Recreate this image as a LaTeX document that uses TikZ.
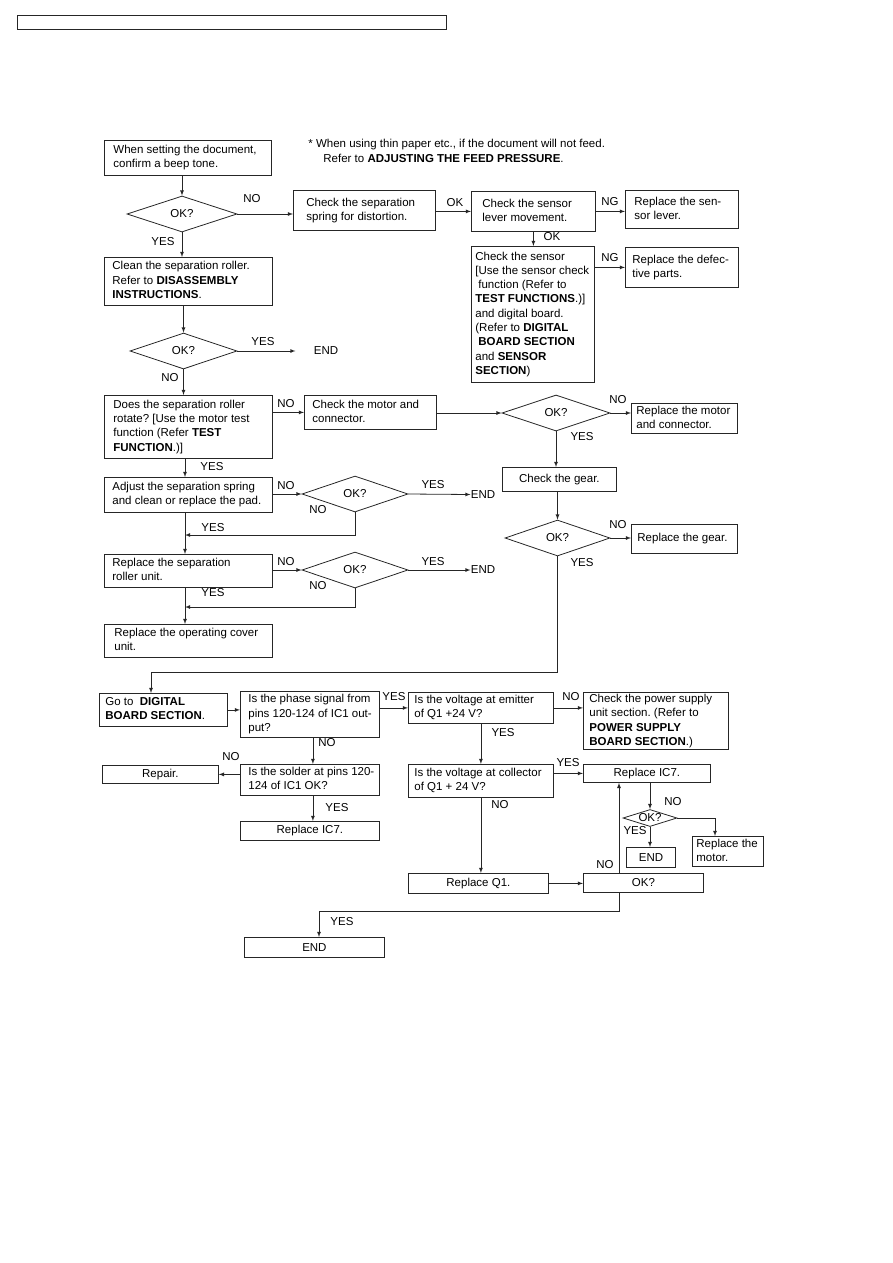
\documentclass[tikz,border=0pt]{standalone}
\usepackage{fontspec}
\setmainfont{Liberation Sans}
\usetikzlibrary{shapes.geometric}
\frenchspacing
\newcommand{\flowfont}{\fontsize{11.5}{14.3}\selectfont}
\newcommand{\boxlines}[1]{\begin{tabular}{@{}l@{}}#1\end{tabular}}
\tikzset{
  box/.style={draw, anchor=north west, align=flush left, inner ysep=0pt, inner xsep=8pt, font=\flowfont},
  cbox/.style={draw, anchor=north west, align=center, inner sep=0pt, font=\flowfont},
  dec/.style={draw, diamond, aspect=3, inner sep=0pt, font=\flowfont},
  lbl/.style={inner sep=0pt, font=\flowfont},
}
\begin{document}
\begin{tikzpicture}[x=1pt, y=-1pt, >=latex, line width=0.8pt, draw=black!85]
\useasboundingbox (0,0) rectangle (893,1263);
\draw[line width=1pt] (17,16) rectangle (446,30);

% note
\node[lbl, anchor=north west, align=left] (note) at (308,139)
  {* When using thin paper etc., if the document will not feed.\\
   \hspace*{15pt}Refer to \textbf{ADJUSTING THE FEED PRESSURE}.};

% upper part
\node[box, text width=149pt, inner xsep=9pt, minimum height=35pt] (beep) at (104,140) {\boxlines{When setting the document,\\confirm a beep tone.}};
\node[dec, minimum width=110pt, minimum height=36pt] (ok1) at (182,214) {OK?};
\node[box, text width=116pt, inner xsep=13pt, minimum height=40pt] (springchk) at (293,190) {\boxlines{Check the separation\\spring for distortion.}};
\node[box, text width=102pt, inner xsep=11pt, minimum height=40pt] (leverchk) at (471,191) {\boxlines{Check the sensor\\lever movement.}};
\node[box, text width=95pt, inner xsep=9pt, minimum height=38pt] (leverrep) at (625,190) {\boxlines{Replace the sen-\\sor lever.}};
\node[box, text width=115pt, inner xsep=4pt, minimum height=136pt] (sensorchk) at (471,246) {\boxlines{Check the sensor\\{}[Use the sensor check\\\hspace*{3pt}function (Refer to\\\textbf{TEST FUNCTIONS}.)]\\and digital board.\\(Refer to \textbf{DIGITAL}\\\hspace*{3pt}\textbf{BOARD SECTION}\\and \textbf{SENSOR}\\\textbf{SECTION})}};
\node[box, text width=99pt, inner xsep=7pt, minimum height=40pt] (partsrep) at (625,247) {\boxlines{Replace the defec-\\tive parts.}};
\node[box, text width=152pt, minimum height=48pt] (roller) at (104,257) {\boxlines{Clean the separation roller.\\Refer to \textbf{DISASSEMBLY}\\\textbf{INSTRUCTIONS}.}};
\node[dec, minimum width=107pt, minimum height=36pt] (ok2) at (183.5,351) {OK?};
\node[lbl] (end1) at (326,351) {END};

% middle part
\node[box, text width=150pt, inner xsep=9pt, minimum height=63pt] (rotate) at (104,395) {\boxlines{Does the separation roller\\rotate? [Use the motor test\\function (Refer \textbf{TEST}\\\textbf{FUNCTION}.)]}};
\node[box, text width=116pt, minimum height=34pt] (motorchk) at (304,395) {\boxlines{Check the motor and\\connector.}};
\node[dec, minimum width=108pt, minimum height=36pt] (ok3) at (556,413) {OK?};
\node[box, text width=96pt, inner xsep=5pt, minimum height=30pt] (motorrep) at (631,403) {\boxlines{Replace the motor\\and connector.}};
\node[cbox, minimum width=114pt, minimum height=24pt] (gearchk) at (502,467) {Check the gear.};
\node[dec, minimum width=105pt, minimum height=36pt] (ok4) at (557.5,538) {OK?};
\node[box, text width=94pt, inner xsep=6pt, minimum height=29pt] (gearrep) at (631,524) {\boxlines{Replace the gear.}};
\node[box, text width=152pt, inner xsep=8pt, minimum height=35pt] (adjust) at (104,477) {\boxlines{Adjust the separation spring\\and clean or replace the pad.}};
\node[dec, minimum width=106pt, minimum height=36pt] (ok5) at (355,494) {OK?};
\node[lbl] (end2) at (483,494.5) {END};
\node[box, text width=152pt, minimum height=33pt] (rollerrep) at (104,554) {\boxlines{Replace the separation\\roller unit.}};
\node[dec, minimum width=106pt, minimum height=36pt] (ok6) at (355,570) {OK?};
\node[lbl] (end3) at (483,570) {END};
\node[box, text width=148pt, inner xsep=10pt, minimum height=33pt] (coverrep) at (104,624) {\boxlines{Replace the operating cover\\unit.}};

% lower part
\node[box, text width=116pt, inner xsep=6pt, minimum height=33pt] (digital) at (99,693) {\boxlines{Go to~~\textbf{DIGITAL}\\\textbf{BOARD SECTION}.}};
\node[box, text width=123pt, inner xsep=8pt, minimum height=46pt] (phase) at (240,691) {\boxlines{Is the phase signal from\\pins 120-124 of IC1 out-\\put?}};
\node[box, text width=133pt, inner xsep=6pt, minimum height=31pt] (emitter) at (408,692) {\boxlines{Is the voltage at emitter\\of Q1 +24 V?}};
\node[box, text width=133pt, inner xsep=6pt, minimum height=57pt] (power) at (583,692) {\boxlines{Check the power supply\\unit section. (Refer to\\\textbf{POWER SUPPLY}\\\textbf{BOARD SECTION}.)}};
\node[box, text width=123pt, inner xsep=8pt, minimum height=31pt] (solder) at (240,764) {\boxlines{Is the solder at pins 120-\\124 of IC1 OK?}};
\node[cbox, minimum width=116pt, minimum height=18pt] (repair) at (102,765) {Repair.};
\node[cbox, minimum width=139pt, minimum height=19pt] (ic7b) at (240,821) {Replace IC7.};
\node[box, text width=133pt, inner xsep=6pt, minimum height=33pt] (collector) at (408,764) {\boxlines{Is the voltage at collector\\of Q1 + 24 V?}};
\node[cbox, minimum width=127pt, minimum height=18pt] (ic7) at (583,764) {Replace IC7.};
\node[dec, minimum width=54pt, minimum height=17pt] (ok7) at (650,818) {OK?};
\node[box, text width=63pt, inner xsep=4pt, minimum height=30pt] (motorrep2) at (692,836) {\boxlines{Replace the\\motor.}};
\node[cbox, minimum width=49pt, minimum height=20pt, line width=1.1pt] (end5) at (626,847) {END};
\node[cbox, minimum width=140pt, minimum height=20pt] (q1rep) at (408,873) {Replace Q1.};
\node[cbox, minimum width=120pt, minimum height=19pt] (recheck) at (583,873) {OK?};
\node[cbox, minimum width=140pt, minimum height=20pt] (end6) at (244,937) {END};

% helper points
\coordinate (col) at (185,0);
\coordinate (join1) at (185,535);
\coordinate (join2) at (185,607);
\coordinate (bend1) at (151,672);
\coordinate (back) at (619,0);
\coordinate (bend2) at (319,911);
\coordinate (motx) at (715,0);

% connectors
\draw[->] (ok1.north |- beep.south) -- (ok1.north);
\draw[->] (ok1.east) -- (ok1.east -| springchk.west);
\draw[->] (springchk.east |- leverchk.west) -- (leverchk.west);
\draw[->] (leverchk.east) -- (leverchk.east -| leverrep.west);
\draw[->] (leverchk.south) -- (leverchk.south |- sensorchk.north);
\draw[->] (sensorchk.east |- partsrep.west) -- (partsrep.west);
\draw[->] (ok1.south) -- (ok1.south |- roller.north);
\draw[->] (ok2.north |- roller.south) -- (ok2.north);
\draw[->] (ok2.east) -- ([xshift=-18pt]end1.west);
\draw[->] (ok2.south) -- (ok2.south |- rotate.north);
\draw[->] (rotate.east |- motorchk.west) -- (motorchk.west);
\draw[->] (motorchk.east |- ok3.west) -- (ok3.west);
\draw[->] (ok3.east) -- (ok3.east -| motorrep.west);
\draw[->] (ok3.south) -- (ok3.south |- gearchk.north);
\draw[->] (ok4.north |- gearchk.south) -- (ok4.north);
\draw[->] (ok4.east) -- (ok4.east -| gearrep.west);
\draw[->] (ok4.south) |- (bend1) -- (bend1 |- digital.north);
\draw[->] (rotate.south -| col) -- (adjust.north -| col);
\draw[->] (adjust.east |- ok5.west) -- (ok5.west);
\draw[->] (ok5.east) -- (end2.west);
\draw[->] (ok5.south) |- (join1);
\draw[->] (adjust.south -| col) -- (rollerrep.north -| col);
\draw[->] (rollerrep.east |- ok6.west) -- (ok6.west);
\draw[->] (ok6.east) -- (end3.west);
\draw[->] (ok6.south) |- (join2);
\draw[->] (rollerrep.south -| col) -- (coverrep.north -| col);
\draw[->] (digital.east) -- (digital.east -| phase.west);
\draw[->] (phase.east |- emitter.west) -- (emitter.west);
\draw[->] (emitter.east) -- (emitter.east -| power.west);
\draw[->] (emitter.south) -- (emitter.south |- collector.north);
\draw[->] (collector.east |- ic7.west) -- (ic7.west);
\draw[->] (collector.south) -- (collector.south |- q1rep.north);
\draw[->] (q1rep.east) -- (q1rep.east -| recheck.west);
\draw[->] (recheck.north -| back) -- (ic7.south -| back);
\draw[->] (ok7.north |- ic7.south) -- (ok7.north);
\draw[->] (ok7.east) -| (motx |- motorrep2.north);
\draw[->] (ok7.south) -- (ok7.south |- end5.north);
\draw[->] (recheck.south -| back) |- (bend2) -- (bend2 |- end6.north);
\draw[->] ([xshift=3pt]phase.south) -- ([xshift=3pt]phase.south |- solder.north);
\draw[->] (solder.west |- repair.east) -- (repair.east);
\draw[->] ([xshift=3pt]solder.south) -- ([xshift=3pt]solder.south |- ic7b.north);

% labels
\node[lbl] (no1) at (252,199) {NO};
\node[lbl] (yes1) at (163,242) {YES};
\node[lbl] (ok1l) at (455,203) {OK};
\node[lbl] (ng1) at (610,202) {NG};
\node[lbl] (ok2l) at (552,237) {OK};
\node[lbl] (ng2) at (610,258) {NG};
\node[lbl] (yes2) at (263,342) {YES};
\node[lbl] (no2) at (170,378) {NO};
\node[lbl] (no3) at (286,404) {NO};
\node[lbl] (no4) at (618,400) {NO};
\node[lbl] (yes3) at (582,437) {YES};
\node[lbl] (no5) at (618,525) {NO};
\node[lbl] (yes4) at (582,563) {YES};
\node[lbl] (yes5) at (212,467) {YES};
\node[lbl] (no6) at (286,486) {NO};
\node[lbl] (yes6) at (433,485) {YES};
\node[lbl] (no7) at (318,510) {NO};
\node[lbl] (yes7) at (213,528) {YES};
\node[lbl] (no8) at (286,562) {NO};
\node[lbl] (yes8) at (433,562) {YES};
\node[lbl] (no9) at (318,586) {NO};
\node[lbl] (yes9) at (213,593) {YES};
\node[lbl] (yes10) at (394,697) {YES};
\node[lbl] (no10) at (571,697) {NO};
\node[lbl] (yes11) at (503,733) {YES};
\node[lbl] (no11) at (327,743) {NO};
\node[lbl] (no12) at (231,757) {NO};
\node[lbl] (yes12) at (337,808) {YES};
\node[lbl] (yes13) at (568,763) {YES};
\node[lbl] (no13) at (500,805) {NO};
\node[lbl] (no14) at (673,802) {NO};
\node[lbl] (yes14) at (635,831) {YES};
\node[lbl] (no15) at (605,865) {NO};
\node[lbl] (yes15) at (342,922) {YES};
\end{tikzpicture}
\end{document}
